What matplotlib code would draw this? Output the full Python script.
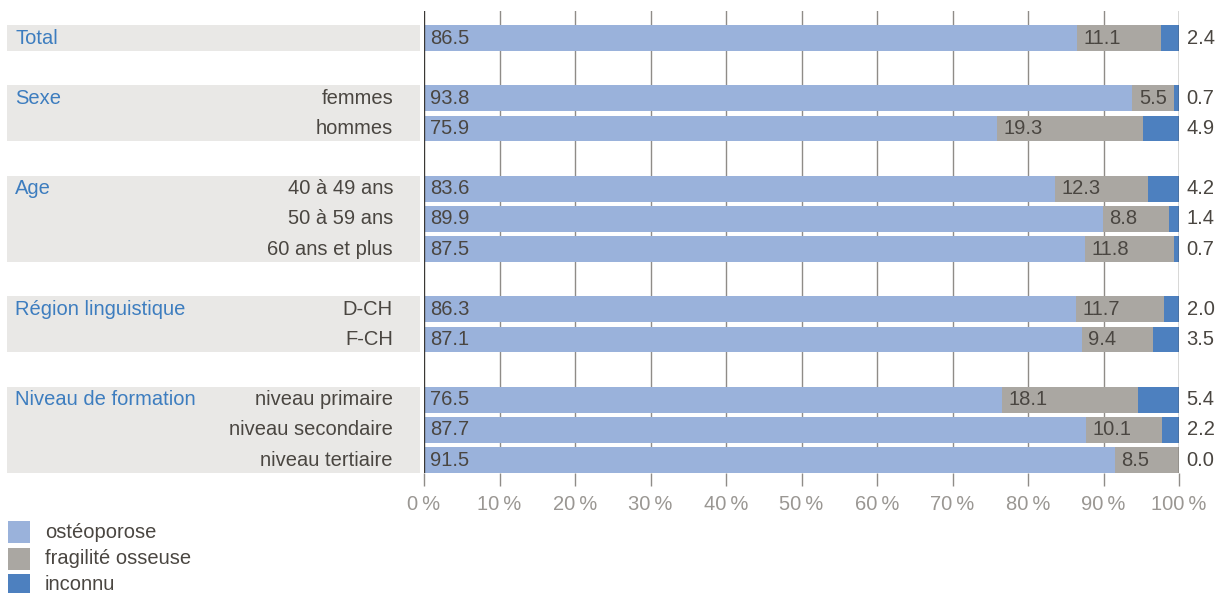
import matplotlib
matplotlib.use("Agg")
import matplotlib.pyplot as plt
import matplotlib.patches as mpatches
import matplotlib.transforms as mtransforms

# ---- data ----
groups = ["Total", "Sexe", "Age", "Région linguistique", "Niveau de formation"]
group_rows = [
    [""],
    ["femmes", "hommes"],
    ["40 à 49 ans", "50 à 59 ans", "60 ans et plus"],
    ["D-CH", "F-CH"],
    ["niveau primaire", "niveau secondaire", "niveau tertiaire"],
]
osteoporose = [86.5, 93.8, 75.9, 83.6, 89.9, 87.5, 86.3, 87.1, 76.5, 87.7, 91.5]
fragilite = [11.1, 5.5, 19.3, 12.3, 8.8, 11.8, 11.7, 9.4, 18.1, 10.1, 8.5]
inconnu = [2.4, 0.7, 4.9, 4.2, 1.4, 0.7, 2.0, 3.5, 5.4, 2.2, 0.0]
series_names = ["ostéoporose", "fragilité osseuse", "inconnu"]
xticks = [0, 10, 20, 30, 40, 50, 60, 70, 80, 90, 100]
xticklabels = ["0\u2009%", "10\u2009%", "20\u2009%", "30\u2009%", "40\u2009%", "50\u2009%",
               "60\u2009%", "70\u2009%", "80\u2009%", "90\u2009%", "100\u2009%"]

# ---- style ----
c_ost = "#9ab2db"
c_fra = "#aaa7a2"
c_inc = "#4d80bf"
c_bg = "#e9e8e6"
c_txt = "#4a4641"
c_blue = "#3d7dbf"
c_tick = "#9a9793"
FONT = ["Liberation Sans", "DejaVu Sans"]
plt.rcParams["font.family"] = FONT

W, H = 1218, 593
fig = plt.figure(figsize=(W / 100, H / 100), dpi=100)
ax_left, ax_right = 424, 1179
ax_top, ax_bot = 11, 473
ax = fig.add_axes([ax_left / W, 1 - ax_bot / H, (ax_right - ax_left) / W, (ax_bot - ax_top) / H])

positions = []
group_pos = []
pos = 0
for g, rows in zip(groups, group_rows):
    gp = []
    for r in rows:
        gp.append(pos)
        positions.append(pos)
        pos += 1
    group_pos.append(gp)
    pos += 1
nrows = pos - 1
bh = 0.86

ax.set_xlim(0, 100)
ax.set_ylim(nrows - 1 + bh / 2, -0.9)
for s in ax.spines.values():
    s.set_visible(False)

for t in xticks:
    if t in (0, 100):
        ax.axvline(t, color="#3a3835", lw=1.0, zorder=4)
    else:
        ax.axvline(t, color="#8f8c88", lw=1.0, zorder=1)

left2 = [o for o in osteoporose]
left3 = [o + f for o, f in zip(osteoporose, fragilite)]
ax.barh(positions, osteoporose, height=bh, color=c_ost, zorder=2, linewidth=0)
ax.barh(positions, fragilite, left=left2, height=bh, color=c_fra, zorder=2, linewidth=0)
ax.barh(positions, inconnu, left=left3, height=bh, color=c_inc, zorder=2, linewidth=0)

fs = 14.5
for p, o, f, i, l2 in zip(positions, osteoporose, fragilite, inconnu, left2):
    ax.text(0.8, p, f"{o:.1f}", ha="left", va="center", color=c_txt, fontsize=fs, zorder=3)
    ax.text(l2 + 0.9, p, f"{f:.1f}", ha="left", va="center", color=c_txt, fontsize=fs, zorder=3)
    ax.text(101.0, p, f"{i:.1f}", ha="left", va="center", color=c_txt, fontsize=fs, zorder=3, clip_on=False)

bt = mtransforms.blended_transform_factory(fig.transFigure, ax.transData)
x0f, x1f = 7 / W, 420 / W
for g, rows, gp in zip(groups, group_rows, group_pos):
    y0 = gp[0] - bh / 2
    y1 = gp[-1] + bh / 2
    rect = mpatches.Rectangle((x0f, y0), x1f - x0f, y1 - y0, transform=bt,
                              facecolor=c_bg, edgecolor="none", clip_on=False, zorder=0)
    ax.add_patch(rect)
    ax.text(15 / W, gp[0], g, transform=bt, ha="left", va="center", color=c_blue, fontsize=fs)
    for r, p in zip(rows, gp):
        if r:
            ax.text(393 / W, p, r, transform=bt, ha="right", va="center", color=c_txt, fontsize=fs)

ax.set_yticks([])
ax.set_xticks(xticks)
ax.set_xticklabels(xticklabels)
ax.tick_params(axis="x", length=9, width=1, color="#8f8c88", labelcolor=c_tick, labelsize=fs, pad=7)

for k, (name, c) in enumerate(zip(series_names, [c_ost, c_fra, c_inc])):
    ytop = 521 + k * 26.5
    fig.patches.append(mpatches.Rectangle((8 / W, 1 - (ytop + 22) / H), 22 / W, 22 / H,
                                          transform=fig.transFigure, facecolor=c, edgecolor="none"))
    fig.text(45 / W, 1 - (ytop + 11) / H, name, ha="left", va="center", color=c_txt, fontsize=fs)

fig.savefig("out.png", dpi=100)
